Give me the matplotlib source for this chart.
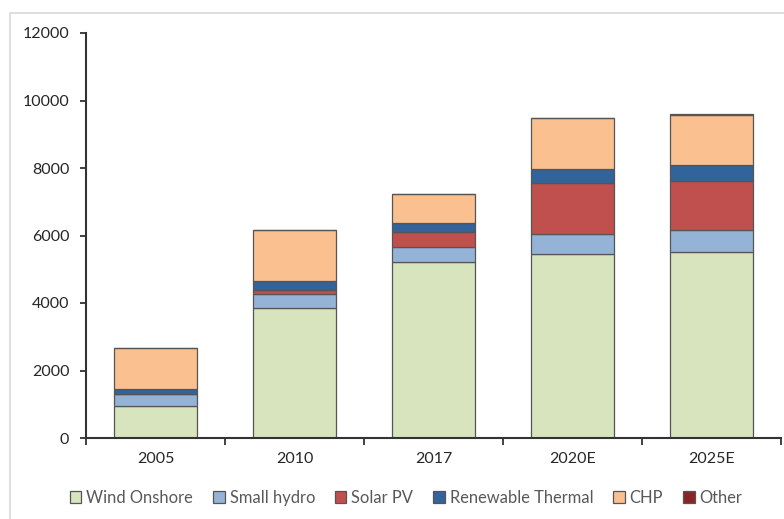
import matplotlib
matplotlib.use("Agg")
import matplotlib.pyplot as plt
from matplotlib.patches import Rectangle
import numpy as np

categories = ["2005", "2010", "2017", "2020E", "2025E"]
series_names = ["Wind Onshore", "Small hydro", "Solar PV", "Renewable Thermal", "CHP", "Other"]
wind_onshore = [960, 3850, 5225, 5450, 5520]
small_hydro = [350, 430, 440, 600, 640]
solar_pv = [0, 110, 450, 1500, 1460]
renewable_thermal = [140, 260, 270, 420, 460]
chp = [1210, 1510, 850, 1500, 1480]
other = [0, 0, 0, 0, 30]
y_ticks = [0, 2000, 4000, 6000, 8000, 10000, 12000]

series = [wind_onshore, small_hydro, solar_pv, renewable_thermal, chp, other]
colors = ["#D7E4BD", "#95B3D7", "#C0504D", "#32639A", "#FAC090", "#8B2525"]

plt.rcParams['font.family'] = ['Lato', 'DejaVu Sans']

fig = plt.figure(figsize=(7.84, 5.19), dpi=100)
fig.patches.append(Rectangle((10/784, -0.1), 1.0, 1 - 13/519 + 0.1,
                             transform=fig.transFigure, fill=False,
                             edgecolor="#D9D9D9", linewidth=1.2))
ax = fig.add_axes([86/784, 1 - 438/519, 695/784, 405/519])

x = np.arange(len(categories))
bottom = np.zeros(len(categories))
handles = []
for name, vals, c in zip(series_names, series, colors):
    vals = np.array(vals, dtype=float)
    b = ax.bar(x, vals, width=0.59, bottom=bottom, color=c,
               edgecolor="#555555", linewidth=0.9, label=name)
    handles.append(b)
    bottom += vals

ax.set_xlim(-0.5, len(categories) - 0.5)
ax.set_ylim(0, 12000)
ax.set_yticks(y_ticks)
ax.set_yticklabels([str(t) for t in y_ticks])
ax.set_xticks(x)
ax.set_xticklabels(categories)
ax.tick_params(axis='x', length=0, pad=10, labelsize=11.5, labelcolor="#262626")
ax.set_xticks(np.arange(len(categories) + 1) - 0.5, minor=True)
ax.tick_params(axis='x', which='minor', length=5, width=1.3, direction='out', color="#333333")
ax.tick_params(axis='y', length=4, width=1.3, direction='out', color="#333333",
               labelsize=11.5, labelcolor="#262626", pad=8)
for s in ["top", "right"]:
    ax.spines[s].set_visible(False)
for s in ["left", "bottom"]:
    ax.spines[s].set_linewidth(1.5)
    ax.spines[s].set_color("#333333")

leg = fig.legend(handles=handles, labels=series_names, loc="center",
                 bbox_to_anchor=(0.518, 1 - 498/519), ncol=6, frameon=False,
                 fontsize=11.9, handlelength=0.7, handleheight=0.7,
                 handletextpad=0.3, columnspacing=1.2)
for t in leg.get_texts():
    t.set_color("#595959")

fig.savefig("out.png", dpi=100)
